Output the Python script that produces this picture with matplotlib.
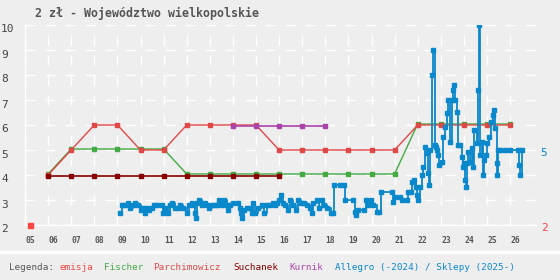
import matplotlib
matplotlib.use("Agg")
import matplotlib.pyplot as plt
import matplotlib.transforms as mtransforms
from matplotlib.lines import Line2D

# ---------------- data ----------------
title = "2 zł - Województwo wielkopolskie"
year_ticks = list(range(2005, 2027))
year_labels = [f"{y % 100:02d}" for y in year_ticks]
y_ticks = [2, 3, 4, 5, 6, 7, 8, 9, 10]

emisja_x = [2005.22]
emisja_y = [2.0]

fischer_x = list(range(2006, 2027))
fischer_y = [4.04, 5.04, 5.04, 5.04, 5.04, 5.04, 4.04, 4.04, 4.04, 4.04, 4.04,
             4.04, 4.04, 4.04, 4.04, 4.04, 6.04, 6.04, 6.04, 6.04, 6.04]

parch_x = list(range(2006, 2027))
parch_y = [4.0, 5.0, 6.0, 6.0, 5.0, 5.0, 6.0, 6.0, 6.0, 6.0, 5.0,
           5.0, 5.0, 5.0, 5.0, 5.0, 6.0, 6.0, 6.0, 6.0, 6.0]

suchanek_x = list(range(2006, 2017))
suchanek_y = [3.96] * 11

kurnik_x = [2014, 2015, 2016, 2017, 2018]
kurnik_y = [5.95, 5.95, 5.95, 5.95, 5.95]

allegro_x = [
    2009.11, 2009.19, 2009.33, 2009.47, 2009.55, 2009.69, 2009.76, 2009.90, 2010.02, 2010.12,
    2010.19, 2010.29, 2010.38, 2010.48, 2010.58, 2010.70, 2010.92, 2010.99, 2011.06, 2011.20,
    2011.28, 2011.35, 2011.49, 2011.64, 2011.71, 2011.85, 2012.00, 2012.10, 2012.22, 2012.29,
    2012.36, 2012.42, 2012.46, 2012.55, 2012.65, 2012.79, 2012.89, 2012.98, 2013.08, 2013.23,
    2013.32, 2013.41, 2013.52, 2013.61, 2013.73, 2013.80, 2013.87, 2014.02, 2014.23, 2014.31,
    2014.35, 2014.41, 2014.48, 2014.60, 2014.74, 2014.81, 2014.88, 2014.96, 2015.10, 2015.25,
    2015.36, 2015.46, 2015.61, 2015.75, 2015.82, 2015.90, 2016.00, 2016.08, 2016.18, 2016.26,
    2016.40, 2016.47, 2016.61, 2016.72, 2016.81, 2016.95, 2017.09, 2017.19, 2017.34, 2017.41,
    2017.48, 2017.63, 2017.73, 2017.87, 2017.96, 2018.06, 2018.25, 2018.35, 2018.39, 2018.64,
    2018.81, 2018.85, 2019.21, 2019.29, 2019.33, 2019.43, 2019.68, 2019.76, 2019.86, 2019.97,
    2020.08, 2020.23, 2020.34, 2020.40, 2020.87, 2020.94, 2021.02, 2021.23, 2021.31, 2021.52,
    2021.59, 2021.70, 2021.74, 2021.84, 2021.93, 2021.98, 2022.03, 2022.10, 2022.17, 2022.24,
    2022.32, 2022.39, 2022.46, 2022.50, 2022.53, 2022.60, 2022.67, 2022.75, 2022.79, 2022.85,
    2022.89, 2022.94, 2023.04, 2023.11, 2023.18, 2023.25, 2023.32, 2023.40, 2023.47, 2023.54,
    2023.57, 2023.61, 2023.69, 2023.76, 2023.83, 2023.90, 2023.95, 2024.00, 2024.05, 2024.09,
    2024.15, 2024.19, 2024.26, 2024.34, 2024.41, 2024.45, 2024.55, 2024.60, 2024.64, 2024.70,
    2024.77, 2024.84, 2024.88, 2024.96, 2025.01, 2025.10, 2025.16, 2025.25, 2025.30, 2025.35,
    2025.42, 2025.45, 2025.49, 2025.56, 2025.78, 2026.00, 2026.36, 2026.40, 2026.43, 2026.50,
]
allegro_y = [
    2.5, 2.8, 2.8, 2.9, 2.7, 2.8, 2.9, 2.8, 2.6, 2.7,
    2.5, 2.7, 2.6, 2.7, 2.8, 2.8, 2.8, 2.5, 2.7, 2.5,
    2.8, 2.9, 2.7, 2.7, 2.8, 2.7, 2.5, 2.8, 2.9, 2.8,
    2.5, 2.3, 2.9, 3.0, 2.8, 2.9, 2.8, 2.7, 2.8, 2.8,
    2.8, 3.0, 2.8, 3.0, 2.8, 2.6, 2.8, 2.9, 2.9, 2.7,
    2.5, 2.3, 2.6, 2.7, 2.7, 2.5, 2.9, 2.5, 2.7, 2.8,
    2.5, 2.8, 2.8, 2.9, 2.8, 2.9, 3.0, 3.2, 2.9, 2.8,
    2.6, 3.0, 2.8, 2.6, 3.0, 2.9, 2.9, 2.8, 2.7, 2.5,
    2.9, 3.0, 2.7, 3.0, 2.8, 2.7, 2.5, 2.5, 3.6, 3.6,
    3.6, 3.0, 3.0, 2.53, 2.4, 2.6, 2.6, 3.0, 2.8, 3.0,
    2.8, 2.53, 2.53, 3.33, 3.33, 2.93, 3.13, 3.13, 3.0, 3.0,
    3.33, 3.33, 3.73, 3.8, 3.53, 3.2, 3.0, 3.53, 4.0, 4.33,
    5.13, 4.87, 4.07, 3.6, 5.0, 8.0, 9.0, 5.2, 5.13, 5.0,
    4.8, 4.4, 4.53, 5.53, 5.93, 6.47, 7.0, 5.33, 7.0, 7.4,
    7.6, 7.0, 6.53, 5.2, 5.2, 4.73, 4.33, 4.47, 3.8, 3.53,
    4.47, 4.93, 4.53, 5.07, 4.33, 5.8, 5.27, 7.4, 10.0, 4.8,
    5.33, 4.0, 4.6, 4.8, 5.27, 5.53, 6.13, 6.4, 6.6, 5.87,
    4.47, 4.0, 5.0, 5.0, 5.0, 5.0, 5.0, 4.4, 4.0, 5.0,
]

legend_items = ["Legenda:", "emisja", "Fischer", "Parchimowicz", "Suchanek",
                "Kurnik", "Allegro (-2024) / Sklepy (2025-)"]

# ---------------- style ----------------
BG = "#eeeeee"
C_EMISJA = "#ff4444"
C_FISCHER = "#44aa44"
C_PARCH = "#e04848"
C_SUCH = "#880000"
C_KURNIK = "#aa44aa"
C_ALLEGRO = "#0a88cc"
C_TEXT = "#555555"
MONO = ["DejaVu Sans Mono"]

W, H = 560, 280
fig = plt.figure(figsize=(W / 100, H / 100), dpi=100, facecolor=BG)
ax_left, ax_right, ax_top, ax_bottom = 25, 536, 25, 225
ax = fig.add_axes([ax_left / W, 1 - ax_bottom / H, (ax_right - ax_left) / W,
                   (ax_bottom - ax_top) / H])
ax.set_facecolor(BG)
px_per_year = 23.1
ax.set_xlim(2005, 2005 + (ax_right - ax_left) / px_per_year)
ax.set_ylim(2, 10)

# grid
dash = (0, (7.2, 7.2))
ax.set_xticks(year_ticks)
ax.set_xticklabels([])
ax.set_xticks([y + 0.22 for y in year_ticks], minor=True)
ax.set_xticklabels(year_labels, minor=True, fontsize=5.8, family=MONO,
                   color=C_TEXT, fontweight="bold")
ax.tick_params(axis="x", which="both", length=0)
ax.tick_params(axis="x", which="minor", pad=8)
ax.set_yticks(y_ticks)
ax.set_yticklabels([str(v) for v in y_ticks], fontsize=8, family=MONO,
                   color="#444444", ha="left")
ax.tick_params(axis="y", length=0, pad=17.3)
offset = mtransforms.ScaledTranslation(0, -3.5 / 100, fig.dpi_scale_trans)
for lab in ax.get_yticklabels():
    lab.set_transform(lab.get_transform() + offset)
ax.grid(True, which="major", color="white", linewidth=1, linestyle=dash)
ax.set_axisbelow(True)
for s in ["top", "right"]:
    ax.spines[s].set_visible(False)
for s in ["left", "bottom"]:
    ax.spines[s].set_color("white")
    ax.spines[s].set_linewidth(1)

# series
ax.plot(fischer_x, fischer_y, color=C_FISCHER, lw=1, marker="s", ms=3, zorder=3)
ax.plot(parch_x, parch_y, color=C_PARCH, lw=1, marker="s", ms=3, zorder=4)
ax.plot(suchanek_x, suchanek_y, color=C_SUCH, lw=1.2, marker="s", ms=3, zorder=4)
ax.plot(kurnik_x, kurnik_y, color=C_KURNIK, lw=1.2, marker="s", ms=3, zorder=4)
ax.plot(allegro_x, allegro_y, color=C_ALLEGRO, lw=1.3, marker="s", ms=2.6,
        drawstyle="steps-post", zorder=5)
ax.plot(emisja_x, emisja_y, color=C_EMISJA, lw=0, marker="s", ms=3.6,
        clip_on=False, zorder=6)

# right-side labels
fig.text(544 / W, 1 - 228 / H, "2", color=C_EMISJA, fontsize=8, family=MONO,
         ha="center", va="center")
fig.text(544 / W, 1 - 153 / H, "5", color=C_ALLEGRO, fontsize=8, family=MONO,
         ha="center", va="center")

# title
fig.text(35 / W, 1 - 13 / H, title, fontsize=8.35, family=MONO, fontweight="bold",
         color=C_TEXT, ha="left", va="center")

# separator band
fig.add_artist(Line2D([0, 1], [1 - 251.5 / H, 1 - 251.5 / H], color="white",
                      lw=2.4, transform=fig.transFigure))

# legend
leg_x = [9, 60, 104, 153, 233, 289, 335]
leg_c = [C_TEXT, C_EMISJA, C_FISCHER, C_PARCH, C_SUCH, C_KURNIK, C_ALLEGRO]
for txt, xx, cc in zip(legend_items, leg_x, leg_c):
    fig.text(xx / W, 1 - 267 / H, txt, fontsize=6.65, family=MONO, color=cc,
             ha="left", va="center")

fig.savefig("out.png", dpi=100, facecolor=BG)
